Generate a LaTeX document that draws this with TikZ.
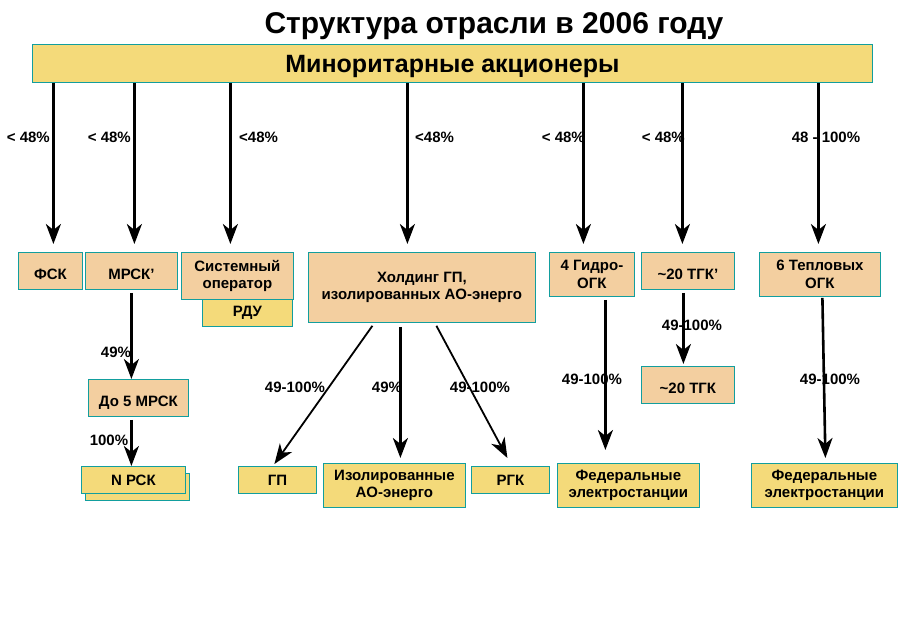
\documentclass[tikz,border=0pt]{standalone}
\usepackage{fontspec}
\setmainfont{Liberation Sans}
\usepackage{xcolor}
\usetikzlibrary{arrows.meta, calc}
\definecolor{yelfill}{HTML}{F4DA7A}
\definecolor{orgfill}{HTML}{F3CFA0}
\definecolor{tealdraw}{HTML}{129E9E}
\tikzset{
  blk/.style={rectangle, draw=tealdraw, line width=0.8pt, align=center, anchor=north west, inner sep=2pt, font=\fontsize{15}{17.5}\selectfont\bfseries},
  org/.style={blk, fill=orgfill},
  sub/.style={blk, fill=yelfill},
  lowtext/.style={text height=17pt, text depth=0pt},
  pct/.style={font=\fontsize{15}{18}\selectfont\bfseries, inner sep=0pt},
  arr/.style={-{Stealth[length=20pt, width=15pt, inset=6pt]}, line width=2.6pt, draw=black},
  arrthin/.style={arr, line width=1.8pt},
}
\begin{document}
\begin{tikzpicture}[x=1pt, y=-1pt]
  \useasboundingbox (0,0) rectangle (900,638);
  \node[font=\fontsize{30}{34}\selectfont\bfseries, text depth=0pt] (title) at (494,23) {Структура отрасли в 2006 году};
  \node[sub, minimum width=840pt, minimum height=38pt, text depth=0pt, font=\fontsize{25}{28}\selectfont\bfseries] (mino) at (32,44) {Миноритарные акционеры};

  \node[org, lowtext, minimum width=64pt, minimum height=37pt] (fsk) at (18,252) {ФСК};
  \node[org, lowtext, minimum width=92pt, minimum height=37pt] (mrsk) at (85,252) {МРСК’};
  \node[sub, minimum width=90pt, minimum height=27pt] (rdu) at (202,299) {РДУ};
  \node[org, minimum width=112pt, minimum height=47pt] (sysop) at (181,252) {Системный\\оператор};
  \node[org, minimum width=227pt, minimum height=70pt] (hold) at (308,252) {Холдинг ГП,\\изолированных АО-энерго};
  \node[org, minimum width=85pt, minimum height=44pt] (hydro) at (549,252) {4 Гидро-\\ОГК};
  \node[org, lowtext, minimum width=93pt, minimum height=37pt] (tgkp) at (641,252) {\textasciitilde20 ТГК’};
  \node[org, minimum width=121pt, minimum height=44pt] (thermal) at (759,252) {6 Тепловых\\ОГК};

  \node[org, lowtext, minimum width=100pt, minimum height=37pt] (mrskfive) at (88,379) {До 5 МРСК};
  \node[org, lowtext, minimum width=93pt, minimum height=37pt] (tgk) at (641,366) {\textasciitilde20 ТГК};

  \node[sub, minimum width=104pt, minimum height=27pt] (rskback) at (85,473) {};
  \node[sub, minimum width=104pt, minimum height=27pt] (rsk) at (81,466) {N РСК};
  \node[sub, minimum width=78pt, minimum height=27pt] (gp) at (238,466) {ГП};
  \node[sub, minimum width=142pt, minimum height=44pt] (iso) at (323,463) {Изолированные\\АО-энерго};
  \node[sub, minimum width=78pt, minimum height=27pt] (rgk) at (471,466) {РГК};
  \node[sub, minimum width=142pt, minimum height=44pt] (fedone) at (557,463) {Федеральные\\электростанции};
  \node[sub, minimum width=146pt, minimum height=44pt] (fedtwo) at (751,463) {Федеральные\\электростанции};

  \node[pct, anchor=east] (lfsk) at (50,137) {< 48\%};
  \node[pct, anchor=east] (lmrsk) at (131,137) {< 48\%};
  \node[pct, anchor=west] (lsysop) at (239,137) {<48\%};
  \node[pct, anchor=west] (lhold) at (415,137) {<48\%};
  \node[pct, anchor=east] (lhydro) at (585,137) {< 48\%};
  \node[pct, anchor=east] (ltgkp) at (685,137) {< 48\%};
  \node[pct] (lthermal) at (826,137) {48 - 100\%};
  \node[pct] (lmrskfive) at (116,352) {49\%};
  \node[pct] (lrsk) at (109,440) {100\%};
  \node[pct] (lgp) at (295,387) {49-100\%};
  \node[pct] (liso) at (387,387) {49\%};
  \node[pct] (lrgk) at (480,387) {49-100\%};
  \node[pct] (lfedone) at (592,379) {49-100\%};
  \node[pct] (ltgk) at (692,325) {49-100\%};
  \node[pct] (lfedtwo) at (830,379) {49-100\%};

  \draw[arr] ($(mino.south -| fsk.north)+(3,0)$) -- ($(fsk.north)+(3,-8)$);
  \draw[arr] ($(mino.south -| mrsk.north)+(3,0)$) -- ($(mrsk.north)+(3,-8)$);
  \draw[arr] ($(mino.south -| sysop.north)+(-7,0)$) -- ($(sysop.north)+(-7,-8)$);
  \draw[arr] ($(mino.south -| hold.north)+(-14.5,0)$) -- ($(hold.north)+(-14.5,-8)$);
  \draw[arr] ($(mino.south -| hydro.north)+(-8.5,0)$) -- ($(hydro.north)+(-8.5,-8)$);
  \draw[arr] ($(mino.south -| tgkp.north)+(-5.5,0)$) -- ($(tgkp.north)+(-5.5,-8)$);
  \draw[arr] ($(mino.south -| thermal.north)+(-1.5,0)$) -- ($(thermal.north)+(-1.5,-8)$);

  \draw[arr] ($(mrsk.south)+(0,3)$) -- (mrsk.south |- mrskfive.north);
  \draw[arr] ($(mrskfive.south -| mrsk.south)+(0,3)$) -- (mrsk.south |- rsk.north);
  \draw[arrthin] ($(hold.south)+(-49.5,3)$) -- ($(gp.north)+(-3,-2)$);
  \draw[arr] ($(hold.south)+(-21.5,4)$) -- ($(iso.north)+(6,-5)$);
  \draw[arrthin] ($(hold.south)+(14.5,3)$) -- ($(rgk.north)+(-3,-8)$);
  \draw[arr] ($(hydro.south)+(13.5,3)$) -- ($(fedone.north)+(-23,-13)$);
  \draw[arr] ($(tgkp.south)+(-4.5,3)$) -- ($(tgk.north)+(-4.5,-2)$);
  \draw[arr] ($(thermal.south)+(2.5,1)$) -- ($(fedtwo.north)+(1,-5)$);
\end{tikzpicture}
\end{document}
